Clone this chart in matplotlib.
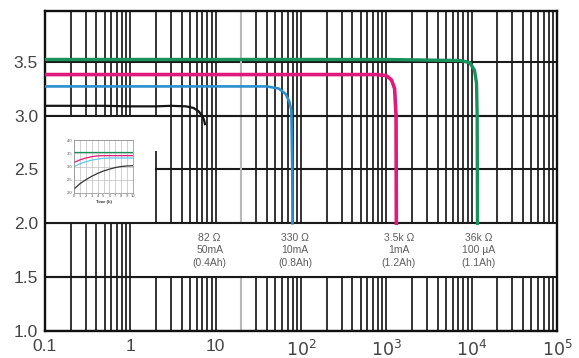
import matplotlib
matplotlib.use("Agg")
import matplotlib.pyplot as plt
from matplotlib.ticker import LogLocator, NullFormatter, FixedLocator
from matplotlib.patches import Rectangle
import numpy as np

plt.rcParams['font.family'] = ['Liberation Sans', 'DejaVu Sans']

# ---- data (time in hours, voltage in V) ----
t_black = [0.1, 0.5, 1, 2, 3, 4.5, 5.5, 6.3, 6.9, 7.3, 7.5]
v_black = [3.09, 3.09, 3.085, 3.085, 3.09, 3.085, 3.07, 3.04, 3.00, 2.96, 2.92]

t_blue = [0.1, 1, 10, 40, 55, 66, 73, 77, 79, 79.5]
v_blue = [3.27, 3.27, 3.27, 3.27, 3.25, 3.20, 3.13, 3.05, 2.5, 2.0]

t_mag = [0.1, 1, 10, 100, 760, 1000, 1150, 1250, 1300, 1310]
v_mag = [3.38, 3.38, 3.38, 3.38, 3.38, 3.37, 3.33, 3.25, 3.0, 2.0]

t_green = [0.1, 1, 10, 100, 1000, 7500, 9500, 10800, 11400, 11600, 11700]
v_green = [3.52, 3.52, 3.52, 3.52, 3.52, 3.51, 3.49, 3.42, 3.30, 3.0, 2.0]

labels_pos = [8.5, 85, 1400, 12000]
labels_txt = ["82 Ω\n50mA\n(0.4Ah)", "330 Ω\n10mA\n(0.8Ah)",
              "3.5k Ω\n1mA\n(1.2Ah)", "36k Ω\n100 µA\n(1.1Ah)"]

xticks = [0.1, 1, 10, 100, 1e3, 1e4, 1e5]
xticklabels = ['0.1', '1', '10', '$10^2$', '$10^3$', '$10^4$', '$10^5$']
yticks = [1.0, 1.5, 2.0, 2.5, 3.0, 3.5]
yticklabels = ['1.0', '1.5', '2.0', '2.5', '3.0', '3.5']

# inset data
in_t = [0, 1, 2, 3, 4, 5, 6, 7, 8, 9, 10]
in_green = [3.55, 3.55, 3.55, 3.55, 3.55, 3.55, 3.55, 3.55, 3.55, 3.55, 3.55]
in_mag = [3.15, 3.25, 3.32, 3.37, 3.40, 3.41, 3.41, 3.41, 3.41, 3.41, 3.41]
in_blue = [3.00, 3.10, 3.18, 3.24, 3.28, 3.31, 3.32, 3.32, 3.32, 3.32, 3.32]
in_black = [2.15, 2.35, 2.50, 2.63, 2.74, 2.83, 2.90, 2.96, 3.00, 3.02, 3.03]

# ---- colours ----
C_GREEN = '#17925a'
C_MAG = '#e01a7c'
C_BLUE = '#2a8fcf'
C_BLACK = '#151515'
GRID = '#1a1a1a'

fig = plt.figure(figsize=(5.79, 3.58), dpi=100)
ax = fig.add_axes([45/579, 1-331/358, (557-45)/579, (331-11)/358])

ax.set_xscale('log')
ax.set_xlim(0.1, 1e5)
ax.set_ylim(1.0, 3.97)

ax.xaxis.set_major_locator(FixedLocator(xticks))
ax.set_xticklabels(xticklabels)
ax.xaxis.set_minor_locator(LogLocator(base=10, subs=np.arange(2, 10)))
ax.xaxis.set_minor_formatter(NullFormatter())
ax.set_yticks(yticks)
ax.set_yticklabels(yticklabels)

ax.set_axisbelow(True)
ax.grid(True, which='both', axis='x', color=GRID, lw=1.25)
ax.grid(True, which='major', axis='y', color=GRID, lw=1.5)
ax.tick_params(axis='both', which='both', length=0, labelsize=12.5,
               labelcolor='#444444')
ax.tick_params(axis='x', pad=6)
ax.tick_params(axis='y', pad=5)
for s in ax.spines.values():
    s.set_color('#111111')
    s.set_linewidth(1.7)

# light grey line at 20
ax.axvline(20, color='#b8b8b8', lw=1.5, zorder=0.8)

# white areas (inset area and annotation band)
ax.add_patch(Rectangle((0.1, 2.0), 1.97 - 0.1, 1.0, facecolor='white',
                       edgecolor='none', zorder=1))
ax.add_patch(Rectangle((1.97, 2.67), 0.1, 0.33, facecolor='white',
                       edgecolor='none', zorder=1))
ax.add_patch(Rectangle((1.03, 1.5), 1e5 - 1.03, 0.5, facecolor='white',
                       edgecolor='none', zorder=1))
for yv in [1.5, 2.0, 3.0]:
    ax.axhline(yv, color=GRID, lw=1.5, zorder=1.2)

# curves
ax.plot(t_black, v_black, color=C_BLACK, lw=1.6, zorder=3)
ax.plot(t_blue, v_blue, color=C_BLUE, lw=1.9, zorder=3)
ax.plot(t_mag, v_mag, color=C_MAG, lw=2.6, zorder=3)
ax.plot(t_green, v_green, color=C_GREEN, lw=2.4, zorder=3)

for xp, tx in zip(labels_pos, labels_txt):
    ax.text(xp, 1.75, tx, ha='center', va='center', fontsize=7.5,
            color='#5e5e5e', linespacing=1.3, zorder=4)

# inset
ins = fig.add_axes([74/579, 1-193/358, 59/579, 53/358])
ins.set_xlim(0, 10)
ins.set_ylim(2.0, 4.0)
ins.set_xticks(in_t)
ins.set_yticks([2.0, 2.5, 3.0, 3.5, 4.0])
ins.set_yticklabels(['2.0', '2.5', '3.0', '3.5', '4.0'])
ins.grid(True, color='#bdbdbd', lw=0.5)
ins.tick_params(length=0, labelsize=3, labelcolor='#555555', pad=1)
for s in ins.spines.values():
    s.set_color('#888888')
    s.set_linewidth(0.5)
ins.plot(in_t, in_green, color=C_GREEN, lw=0.9)
ins.plot(in_t, in_mag, color=C_MAG, lw=0.9)
ins.plot(in_t, in_blue, color='#5fc8e8', lw=0.9)
ins.plot(in_t, in_black, color='#333333', lw=0.9)
ins.set_xlabel('Time (h)', fontsize=3, labelpad=1, color='#333333',
               fontweight='bold')

fig.savefig('out.png', dpi=100)
